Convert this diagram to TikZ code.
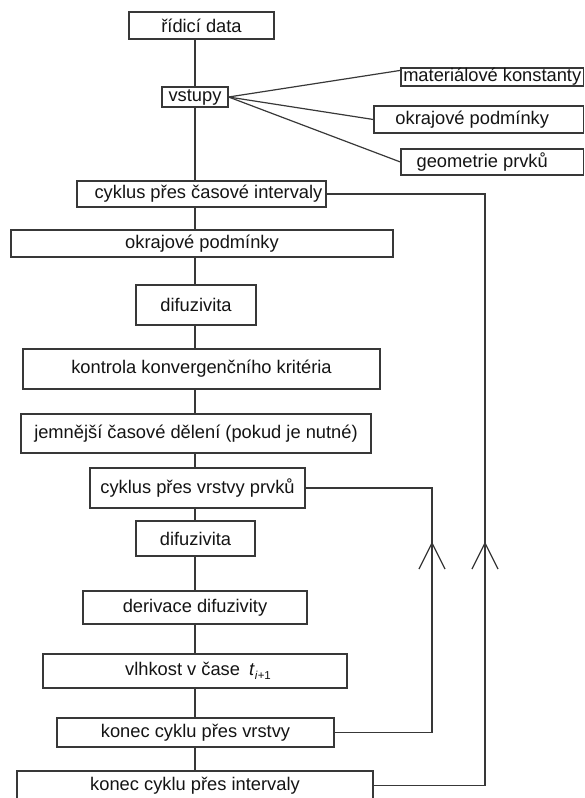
\documentclass[tikz,border=0pt]{standalone}
\usepackage{fontspec}
\setmainfont{Liberation Sans}
\usetikzlibrary{calc}
\begin{document}
\begin{tikzpicture}[x=1pt,y=-1pt,
  box/.style={draw=black!78, line width=1.2pt, inner sep=0pt, fill=white,
    font=\fontsize{18.3}{22}\selectfont, text=black!92},
  conn/.style={draw=black!78, line width=1.2pt}]
\useasboundingbox (0,0) rectangle (584,798);
\clip (0,0) rectangle (584,798);
\coordinate (trunk) at (195,0);
\coordinate (ox) at (485,0);
\coordinate (ix) at (432,0);
% main column
\node[box, minimum width=145pt, minimum height=27pt] (ridici) at (201.5,25.5) {řídicí data};
\node[box, minimum width=66pt, minimum height=20pt] (vstupy) at (195,97) {vstupy};
\node[box, minimum width=249pt, minimum height=26pt] (cyk1) at (201.5,194) {\hspace*{14pt}cyklus přes časové intervaly};
\node[box, minimum width=382pt, minimum height=27pt] (okr2) at (202,243.5) {okrajové podmínky};
\node[box, minimum width=120pt, minimum height=40pt] (dif1) at (196,305) {difuzivita};
\node[box, minimum width=357pt, minimum height=40pt] (kontr) at (201.5,369) {kontrola konvergenčního kritéria};
\node[box, minimum width=350pt, minimum height=39pt] (jemn) at (196,433.5) {jemnější časové dělení (pokud je nutné)};
\node[box, minimum width=215pt, minimum height=40pt] (cyk2) at (197.5,488) {cyklus přes vrstvy prvků};
\node[box, minimum width=119pt, minimum height=35pt] (dif2) at (195.5,538.5) {difuzivita};
\node[box, minimum width=224pt, minimum height=33pt] (deriv) at (195,607.5) {derivace difuzivity};
\node[box, minimum width=304pt, minimum height=34pt] (vlhk) at (195,671) {\hspace*{6pt}vlhkost v čase\hspace{0.5em}\textit{t}\raisebox{-4.5pt}{\fontsize{11.5}{12}\selectfont\textit{i}+1}};
\node[box, minimum width=277pt, minimum height=29pt] (konv) at (195.5,732.5) {konec cyklu přes vrstvy};
\node[box, minimum width=356pt, minimum height=29pt] (koni) at (195,785.5) {konec cyklu přes intervaly};
% right input boxes
\node[box, minimum width=182.5pt, minimum height=18pt] (matkon) at (492.25,77) {materiálové konstanty};
\node[box, minimum width=209.5pt, minimum height=27pt] (okr1) at (478.75,119.5) {okrajové podmínky\hspace*{13pt}};
\node[box, minimum width=182.5pt, minimum height=26pt] (geom) at (492.25,162) {geometrie prvků\hspace*{20pt}};
% trunk connectors
\foreach \a/\b in {ridici/vstupy, vstupy/cyk1, cyk1/okr2, okr2/dif1, dif1/kontr,
  kontr/jemn, jemn/cyk2, cyk2/dif2, dif2/deriv, deriv/vlhk, vlhk/konv, konv/koni}
  \draw[conn] (\a.south -| trunk) -- (\b.north -| trunk);
% fan from inputs
\draw[conn] (vstupy.east) -- ($(matkon.north west)+(0,3)$);
\draw[conn] (vstupy.east) -- (okr1.west);
\draw[conn] (vstupy.east) -- (geom.west);
% loops
\draw[conn] (cyk1.east) -- (cyk1.east -| ox) -- (koni.east -| ox) -- (koni.east);
\draw[conn] (cyk2.east) -- (cyk2.east -| ix) -- (konv.east -| ix) -- (konv.east);
\coordinate (iarr) at (432,543);
\coordinate (oarr) at (485,543);
\draw[conn] ($(iarr)+(-13,26)$) -- (iarr) -- ($(iarr)+(13,26)$);
\draw[conn] ($(oarr)+(-13,26)$) -- (oarr) -- ($(oarr)+(13,26)$);
\end{tikzpicture}
\end{document}
